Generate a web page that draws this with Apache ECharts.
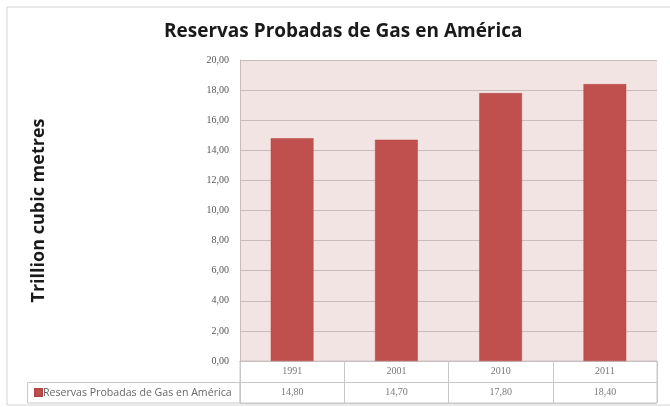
<!DOCTYPE html>
<html>
<head>
<meta charset="utf-8">
<script src="https://cdn.jsdelivr.net/npm/echarts@6/dist/echarts.min.js"></script>
<style>
  html, body { margin: 0; padding: 0; background: #ffffff; }
  #chart { width: 670px; height: 407px; }
</style>
</head>
<body>
<div id="chart"></div>
<script>
// Proved gas reserves in the Americas, trillion cubic metres
const years = ['1991', '2001', '2010', '2011'];
const reserves = [14.80, 14.70, 17.80, 18.40];
const seriesName = 'Reservas Probadas de Gas en América';
const yTicks = { min: 0, max: 20, interval: 2 };

const fmt = v => v.toFixed(2).replace('.', ',');

const barColor = '#c0504d';
const gridColor = '#c9bcbc';
const tableLine = '#c8c8c8';
const labelFont = '"Liberation Serif", "DejaVu Serif", serif';
const headFont = '"Open Sans", "Noto Sans", sans-serif';

// Data-table cells: one row of years, one row of values
const tableCells = [];
years.forEach((y, i) => {
  tableCells.push({ value: [i, 'year'], text: y });
  tableCells.push({ value: [i, 'value'], text: fmt(reserves[i]) });
});

const chart = echarts.init(document.getElementById('chart'), null, { renderer: 'canvas' });

chart.setOption({
  animation: false,
  backgroundColor: '#ffffff',
  title: {
    text: 'Reservas Probadas de Gas en América',
    left: 164,
    top: 22,
    padding: 0,
    textStyle: {
      fontFamily: headFont,
      fontWeight: 'bold',
      fontSize: 19,
      color: '#1a1a1a'
    }
  },
  legend: {
    data: [seriesName],
    left: 34,
    top: 387,
    padding: 0,
    itemWidth: 7,
    itemHeight: 7,
    itemGap: 4,
    icon: 'rect',
    textStyle: {
      fontFamily: headFont,
      fontSize: 10.6,
      color: '#666666',
      padding: [0, 0, 0, -4]
    }
  },
  graphic: [
    {
      type: 'rect',
      silent: true,
      shape: { x: 7, y: 7, width: 670, height: 398 },
      style: { fill: 'none', stroke: '#d4d4d4', lineWidth: 1 }
    },
    {
      type: 'rect',
      silent: true,
      shape: { x: 27.5, y: 382.5, width: 212.5, height: 20.5 },
      style: { fill: 'none', stroke: tableLine, lineWidth: 1 }
    }
  ],
  grid: [
    {
      left: 240, right: 13, top: 60, height: 301,
      show: true,
      backgroundColor: '#f3e4e4',
      borderWidth: 0
    },
    {
      left: 240, right: 13, top: 361, height: 42,
      show: true,
      backgroundColor: '#ffffff',
      borderColor: tableLine,
      borderWidth: 1
    }
  ],
  xAxis: [
    {
      type: 'category',
      gridIndex: 0,
      data: years,
      axisLine: { show: true, lineStyle: { color: gridColor } },
      axisTick: { show: false },
      axisLabel: { show: false },
      splitLine: { show: false }
    },
    {
      type: 'category',
      gridIndex: 1,
      data: years,
      axisLine: { show: false },
      axisTick: { show: false },
      axisLabel: { show: false },
      splitLine: { show: true, lineStyle: { color: tableLine, width: 1 } }
    }
  ],
  yAxis: [
    {
      type: 'value',
      gridIndex: 0,
      min: yTicks.min,
      max: yTicks.max,
      interval: yTicks.interval,
      name: 'Trillion cubic metres',
      nameLocation: 'middle',
      nameGap: 192,
      nameTextStyle: {
        fontFamily: headFont,
        fontWeight: 'bold',
        fontSize: 18,
        color: '#1a1a1a'
      },
      axisLine: { show: true, lineStyle: { color: gridColor } },
      axisTick: { show: false },
      axisLabel: {
        margin: 11,
        formatter: v => fmt(v),
        fontFamily: labelFont,
        fontSize: 10,
        color: '#555555'
      },
      splitLine: { show: true, lineStyle: { color: gridColor, width: 1 } }
    },
    {
      type: 'category',
      gridIndex: 1,
      data: ['value', 'year'],
      axisLine: { show: false },
      axisTick: { show: false },
      axisLabel: { show: false },
      splitLine: { show: true, lineStyle: { color: tableLine, width: 1 } }
    }
  ],
  series: [
    {
      name: seriesName,
      type: 'bar',
      xAxisIndex: 0,
      yAxisIndex: 0,
      data: reserves,
      barWidth: '41%',
      itemStyle: { color: barColor, borderColor: '#b24743', borderWidth: 0.5 }
    },
    {
      name: 'table',
      type: 'scatter',
      xAxisIndex: 1,
      yAxisIndex: 1,
      symbolSize: 0,
      silent: true,
      data: tableCells,
      label: {
        show: true,
        position: 'inside',
        formatter: p => p.data.text,
        fontFamily: labelFont,
        fontSize: 10,
        color: '#555555'
      }
    }
  ]
});
</script>
</body>
</html>
